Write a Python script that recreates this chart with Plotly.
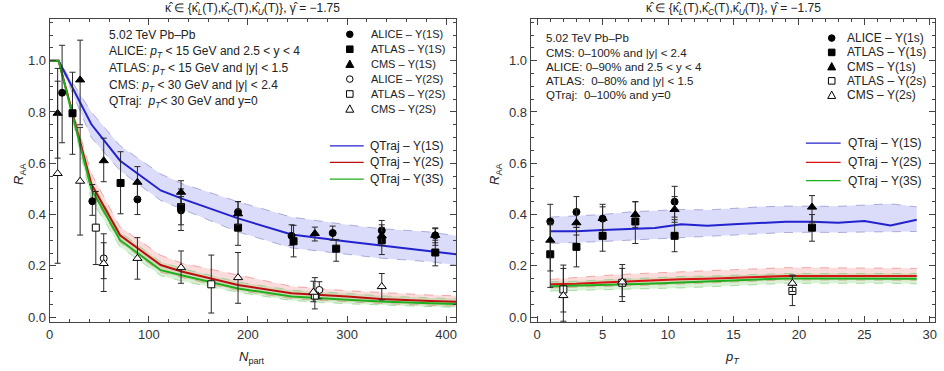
import plotly.graph_objects as go

W, H = 944, 371
FONT = "Liberation Sans, Arial, sans-serif"

def fx(x):
    return x / W

def fy(y):
    return 1 - y / H

# ---------------- Left panel data (vs N_part) ----------------
npart_grid = [0, 9, 42, 71, 112, 134, 190, 244, 300, 334, 384, 410]
q1s_n = [1.0, 1.0, 0.752, 0.61, 0.494, 0.461, 0.385, 0.322, 0.295, 0.28, 0.257, 0.245]
q1s_n_up = [1.0, 1.0, 0.80, 0.668, 0.558, 0.52, 0.45, 0.39, 0.36, 0.345, 0.332, 0.317]
q1s_n_lo = [1.0, 1.0, 0.70, 0.571, 0.455, 0.42, 0.332, 0.27, 0.245, 0.23, 0.216, 0.203]
q2s_n = [1.0, 1.0, 0.519, 0.319, 0.203, 0.177, 0.125, 0.093, 0.08, 0.071, 0.063, 0.06]
q2s_n_up = [1.0, 1.0, 0.56, 0.351, 0.241, 0.21, 0.164, 0.12, 0.103, 0.095, 0.086, 0.083]
q2s_n_lo = [1.0, 1.0, 0.49, 0.292, 0.175, 0.154, 0.104, 0.072, 0.06, 0.053, 0.046, 0.043]
q3s_n = [1.0, 1.0, 0.50, 0.30, 0.183, 0.162, 0.112, 0.08, 0.068, 0.061, 0.054, 0.051]
q3s_n_up = [1.0, 1.0, 0.53, 0.331, 0.215, 0.189, 0.137, 0.105, 0.092, 0.083, 0.075, 0.072]
q3s_n_lo = [1.0, 1.0, 0.46, 0.274, 0.162, 0.14, 0.097, 0.065, 0.052, 0.047, 0.041, 0.038]

alice1s_n_x = [12.5, 43, 88.5, 132.5, 190, 244, 285.5, 335, 389]
alice1s_n_y = [0.875, 0.452, 0.459, 0.416, 0.41, 0.317, 0.328, 0.338, 0.319]
alice1s_n_lo = [0.68, 0.397, 0.40, 0.36, 0.36, 0.28, 0.30, 0.30, 0.28]
alice1s_n_hi = [1.06, 0.517, 0.52, 0.47, 0.45, 0.36, 0.355, 0.377, 0.348]

atlas1s_n_x = [23, 71.5, 132.5, 190, 246, 289, 335, 389]
atlas1s_n_y = [0.795, 0.523, 0.429, 0.349, 0.296, 0.267, 0.30, 0.252]
atlas1s_n_lo = [0.635, 0.403, 0.338, 0.28, 0.235, 0.218, 0.244, 0.20]
atlas1s_n_hi = [0.955, 0.645, 0.50, 0.42, 0.358, 0.303, 0.35, 0.30]

cms1s_n_x = [8, 30.7, 54.5, 88.5, 132.5, 190, 267.5, 335, 389]
cms1s_n_y = [0.795, 0.925, 0.61, 0.526, 0.487, 0.403, 0.326, 0.317, 0.319]
cms1s_n_lo = [0.62, 0.75, 0.528, 0.465, 0.44, 0.36, 0.297, 0.28, 0.29]
cms1s_n_hi = [0.97, 1.08, 0.698, 0.587, 0.532, 0.451, 0.351, 0.36, 0.345]

alice2s_n_x = [54.5, 272]
alice2s_n_y = [0.229, 0.106]
alice2s_n_lo = [0.10, 0.071]
alice2s_n_hi = [0.325, 0.138]

atlas2s_n_x = [46.5, 163, 267.5]
atlas2s_n_y = [0.349, 0.128, 0.084]
atlas2s_n_lo = [0.205, 0.016, 0.032]
atlas2s_n_hi = [0.49, 0.242, 0.154]

cms2s_n_x = [8, 30.7, 54.5, 88.5, 132.5, 190, 266, 335]
cms2s_n_y = [0.56, 0.53, 0.209, 0.229, 0.193, 0.154, 0.097, 0.119]
cms2s_n_lo = [0.21, 0.32, 0.15, 0.148, 0.132, 0.054, 0.06, 0.067]
cms2s_n_hi = [0.92, 0.74, 0.29, 0.31, 0.258, 0.252, 0.14, 0.17]

# ---------------- Right panel data (vs p_T) ----------------
pt_grid = [1, 3, 5, 7, 9, 11, 13, 15, 17, 19, 21, 23, 25, 27, 29]
q1s_p = [0.335, 0.335, 0.34, 0.343, 0.348, 0.362, 0.356, 0.362, 0.367, 0.372, 0.372, 0.368, 0.375, 0.357, 0.38]
q1s_p_up = [0.39, 0.395, 0.40, 0.41, 0.415, 0.42, 0.418, 0.425, 0.43, 0.433, 0.433, 0.432, 0.437, 0.442, 0.43]
q1s_p_lo = [0.287, 0.29, 0.295, 0.30, 0.305, 0.31, 0.313, 0.32, 0.325, 0.33, 0.331, 0.33, 0.332, 0.333, 0.334]
q2s_p = [0.128, 0.13, 0.135, 0.14, 0.144, 0.148, 0.15, 0.153, 0.156, 0.16, 0.16, 0.16, 0.162, 0.162, 0.16]
q2s_p_up = [0.147, 0.155, 0.162, 0.168, 0.173, 0.177, 0.181, 0.185, 0.189, 0.193, 0.193, 0.192, 0.193, 0.192, 0.19]
q2s_p_lo = [0.114, 0.116, 0.119, 0.122, 0.125, 0.129, 0.132, 0.137, 0.141, 0.145, 0.145, 0.145, 0.146, 0.146, 0.144]
q3s_p = [0.12, 0.122, 0.125, 0.128, 0.131, 0.135, 0.138, 0.143, 0.147, 0.151, 0.151, 0.151, 0.152, 0.152, 0.15]
q3s_p_up = [0.138, 0.14, 0.145, 0.15, 0.154, 0.158, 0.16, 0.163, 0.166, 0.17, 0.17, 0.17, 0.172, 0.172, 0.17]
q3s_p_lo = [0.102, 0.104, 0.106, 0.109, 0.111, 0.114, 0.118, 0.123, 0.128, 0.132, 0.132, 0.132, 0.133, 0.132, 0.13]

alice1s_p_x = [1, 3, 5, 10.5]
alice1s_p_y = [0.373, 0.41, 0.384, 0.45]
alice1s_p_lo = [0.30, 0.35, 0.33, 0.39]
alice1s_p_hi = [0.44, 0.47, 0.44, 0.51]

atlas1s_p_x = [1, 3, 5, 7.5, 10.5, 21]
atlas1s_p_y = [0.245, 0.274, 0.317, 0.373, 0.317, 0.349]
atlas1s_p_lo = [0.116, 0.196, 0.257, 0.287, 0.255, 0.296]
atlas1s_p_hi = [0.37, 0.35, 0.38, 0.45, 0.38, 0.40]

cms1s_p_x = [1, 3, 5, 7.5, 10.5, 21]
cms1s_p_y = [0.30, 0.368, 0.385, 0.40, 0.42, 0.429]
cms1s_p_lo = [0.18, 0.32, 0.34, 0.35, 0.37, 0.37]
cms1s_p_hi = [0.36, 0.42, 0.43, 0.45, 0.47, 0.474]

atlas2s_p_x = [2, 6.5, 19.5]
atlas2s_p_y = [0.108, 0.134, 0.102]
atlas2s_p_lo = [-0.016, 0.061, 0.045]
atlas2s_p_hi = [0.203, 0.205, 0.164]

cms2s_p_x = [2, 6.5, 19.5]
cms2s_p_y = [0.084, 0.137, 0.132]
cms2s_p_lo = [0.02, 0.08, 0.10]
cms2s_p_hi = [0.19, 0.19, 0.16]

# ---------------- styles ----------------
BLUE = "rgb(35,35,205)"
RED = "rgb(185,15,15)"
RED2 = "rgb(215,20,20)"
GREEN = "rgb(30,175,30)"
BLUE_FILL = "rgba(110,110,235,0.25)"
RED_FILL = "rgba(240,120,120,0.26)"
GREEN_FILL = "rgba(110,200,90,0.26)"
BLUE_EDGE = "rgba(120,120,190,0.55)"
RED_EDGE = "rgba(235,120,120,0.6)"
GREEN_EDGE = "rgba(120,200,120,0.6)"

fig = go.Figure()


def add_band(x, lo, up, fill, edge, xa, ya):
    fig.add_trace(go.Scatter(x=x, y=lo, mode="lines", line=dict(color=edge, width=1, dash="dash"),
                             showlegend=False, hoverinfo="skip", xaxis=xa, yaxis=ya))
    fig.add_trace(go.Scatter(x=x, y=up, mode="lines", line=dict(color=edge, width=1, dash="dash"),
                             fill="tonexty", fillcolor=fill, showlegend=False, hoverinfo="skip",
                             xaxis=xa, yaxis=ya))


def add_line(x, y, color, xa, ya):
    fig.add_trace(go.Scatter(x=x, y=y, mode="lines", line=dict(color=color, width=2),
                             showlegend=False, xaxis=xa, yaxis=ya))


def add_points(x, y, lo, hi, symbol, filled, xa, ya):
    size = 8 if "triangle" in symbol else 7
    fig.add_trace(go.Scatter(
        x=x, y=y, mode="markers",
        marker=dict(symbol=symbol, size=size, color="black" if filled else "white",
                    line=dict(color="black", width=1)),
        error_y=dict(type="data", symmetric=False,
                     array=[h - v for h, v in zip(hi, y)],
                     arrayminus=[v - l for v, l in zip(y, lo)],
                     thickness=1, width=3, color="rgb(40,40,40)"),
        showlegend=False, xaxis=xa, yaxis=ya))


# Left panel
add_band(npart_grid, q1s_n_lo, q1s_n_up, BLUE_FILL, BLUE_EDGE, "x", "y")
add_band(npart_grid, q2s_n_lo, q2s_n_up, RED_FILL, RED_EDGE, "x", "y")
add_band(npart_grid, q3s_n_lo, q3s_n_up, GREEN_FILL, GREEN_EDGE, "x", "y")
add_line(npart_grid, q1s_n, BLUE, "x", "y")
add_line(npart_grid, q2s_n, RED, "x", "y")
add_line(npart_grid, q3s_n, GREEN, "x", "y")
add_points(alice1s_n_x, alice1s_n_y, alice1s_n_lo, alice1s_n_hi, "circle", True, "x", "y")
add_points(atlas1s_n_x, atlas1s_n_y, atlas1s_n_lo, atlas1s_n_hi, "square", True, "x", "y")
add_points(cms1s_n_x, cms1s_n_y, cms1s_n_lo, cms1s_n_hi, "triangle-up", True, "x", "y")
add_points(alice2s_n_x, alice2s_n_y, alice2s_n_lo, alice2s_n_hi, "circle", False, "x", "y")
add_points(atlas2s_n_x, atlas2s_n_y, atlas2s_n_lo, atlas2s_n_hi, "square", False, "x", "y")
add_points(cms2s_n_x, cms2s_n_y, cms2s_n_lo, cms2s_n_hi, "triangle-up", False, "x", "y")

# Right panel
add_band(pt_grid, q1s_p_lo, q1s_p_up, BLUE_FILL, BLUE_EDGE, "x2", "y2")
add_band(pt_grid, q2s_p_lo, q2s_p_up, RED_FILL, RED_EDGE, "x2", "y2")
add_band(pt_grid, q3s_p_lo, q3s_p_up, GREEN_FILL, GREEN_EDGE, "x2", "y2")
add_line(pt_grid, q1s_p, BLUE, "x2", "y2")
add_line(pt_grid, q2s_p, RED2, "x2", "y2")
add_line(pt_grid, q3s_p, GREEN, "x2", "y2")
add_points(alice1s_p_x, alice1s_p_y, alice1s_p_lo, alice1s_p_hi, "circle", True, "x2", "y2")
add_points(atlas1s_p_x, atlas1s_p_y, atlas1s_p_lo, atlas1s_p_hi, "square", True, "x2", "y2")
add_points(cms1s_p_x, cms1s_p_y, cms1s_p_lo, cms1s_p_hi, "triangle-up", True, "x2", "y2")
add_points(atlas2s_p_x, atlas2s_p_y, atlas2s_p_lo, atlas2s_p_hi, "square", False, "x2", "y2")
add_points(cms2s_p_x, cms2s_p_y, cms2s_p_lo, cms2s_p_hi, "triangle-up", False, "x2", "y2")

# ---------------- axes ----------------
AX = dict(showline=True, linecolor="#444", linewidth=1, mirror="ticks", ticks="inside",
          ticklen=6, tickwidth=1, tickcolor="#444", showgrid=False, zeroline=False,
          tickfont=dict(family=FONT, size=13, color="#333"))

y_ticks = [0.0, 0.2, 0.4, 0.6, 0.8, 1.0]
y_range = [-0.02, 1.163]
ydom = [fy(324), fy(19)]

fig.update_layout(
    width=W, height=H, margin=dict(l=0, r=0, t=0, b=0),
    paper_bgcolor="white", plot_bgcolor="white", showlegend=False,
    xaxis=dict(AX, domain=[fx(46), fx(455)], range=[0, 410], tickvals=[0, 100, 200, 300, 400],
               minor=dict(dtick=20, ticks="inside", ticklen=3, tickcolor="#444"), anchor="y"),
    yaxis=dict(AX, domain=ydom, range=y_range, tickvals=y_ticks, tickformat=".1f",
               minor=dict(dtick=0.05, ticks="inside", ticklen=3, tickcolor="#444"), anchor="x"),
    xaxis2=dict(AX, domain=[fx(530), fx(937)], range=[-0.5, 30.4], tickvals=[0, 5, 10, 15, 20, 25, 30],
                minor=dict(dtick=1, ticks="inside", ticklen=3, tickcolor="#444"), anchor="y2"),
    yaxis2=dict(AX, domain=ydom, range=y_range, tickvals=y_ticks, tickformat=".1f",
                minor=dict(dtick=0.05, ticks="inside", ticklen=3, tickcolor="#444"), anchor="x2"),
)

ann = []


def text(x, y, s, size=12, xanchor="left", angle=0):
    ann.append(dict(x=fx(x), y=fy(y), xref="paper", yref="paper", text=s, showarrow=False,
                    xanchor=xanchor, yanchor="middle", textangle=angle,
                    font=dict(family=FONT, size=size, color="#222")))


title = ("κ̂ ∈ {κ̂<sub><i>L</i></sub>(T),κ̂<sub><i>C</i></sub>(T),κ̂<sub><i>U</i></sub>(T)}, "
         "γ̂ = −1.75")
text(250, 9, title, 12, "center")
text(734, 9, title, 12, "center")

# axis titles
text(15, 175, "<i>R</i><sub>AA</sub>", 13, "center", -90)
text(494, 175, "<i>R</i><sub>AA</sub>", 13, "center", -90)
text(250, 359, "<i>N</i><sub>part</sub>", 13, "center")
text(733, 359, "<i>p</i><sub><i>T</i></sub>", 13, "center")

PT = "<i>p</i><sub><i>T</i></sub>"
left_info = ["5.02 TeV Pb–Pb",
             f"ALICE: {PT} &lt; 15 GeV and 2.5 &lt; y &lt; 4",
             f"ATLAS: {PT} &lt; 15 GeV and |y| &lt; 1.5",
             f"CMS: {PT} &lt; 30 GeV and |y| &lt; 2.4",
             f"QTraj:  {PT}&lt; 30 GeV and y=0"]
for s, y in zip(left_info, [35, 52, 69, 86, 103]):
    text(104, y, s, 12)

right_info = ["5.02 TeV Pb–Pb",
              "CMS: 0–100% and |y| &lt; 2.4",
              "ALICE: 0–90% and 2.5 &lt; y &lt; 4",
              "ATLAS:  0–80% and |y| &lt; 1.5",
              "QTraj:  0–100% and y=0"]
for s, y in zip(right_info, [38, 53, 67, 81.5, 96]):
    text(543, y, s, 11.5)

shapes = []


def sym(kind, filled, cx, cy, r=3.3):
    fill = "black" if filled else "white"
    line = dict(color="black", width=1)
    if kind == "circle":
        shapes.append(dict(type="circle", xref="paper", yref="paper", x0=fx(cx - r), x1=fx(cx + r),
                           y0=fy(cy + r), y1=fy(cy - r), fillcolor=fill, line=line))
    elif kind == "square":
        shapes.append(dict(type="rect", xref="paper", yref="paper", x0=fx(cx - r), x1=fx(cx + r),
                           y0=fy(cy + r), y1=fy(cy - r), fillcolor=fill, line=line))
    else:
        path = (f"M {fx(cx - r - 0.7)} {fy(cy + r)} L {fx(cx + r + 0.7)} {fy(cy + r)} "
                f"L {fx(cx)} {fy(cy - r - 0.8)} Z")
        shapes.append(dict(type="path", xref="paper", yref="paper", path=path, fillcolor=fill, line=line))


left_marks = [("circle", True, "ALICE – Υ(1S)"), ("square", True, "ATLAS – Υ(1S)"),
              ("triangle", True, "CMS – Υ(1S)"), ("circle", False, "ALICE – Υ(2S)"),
              ("square", False, "ATLAS – Υ(2S)"), ("triangle", False, "CMS – Υ(2S)")]
for (k, f, s), y in zip(left_marks, [34.5, 49.5, 64.5, 79.5, 94.5, 109.5]):
    sym(k, f, 348, y)
    text(367, y, s, 11)

right_marks = [("circle", True, "ALICE – Υ(1s)"), ("square", True, "ATLAS – Υ(1s)"),
               ("triangle", True, "CMS – Υ(1s)"), ("square", False, "ATLAS – Υ(2s)"),
               ("triangle", False, "CMS – Υ(2s)")]
for (k, f, s), y in zip(right_marks, [38.3, 52.7, 67, 81.3, 95.7]):
    sym(k, f, 833, y)
    text(846, y, s, 12)


def line_key(x0, x1, y, color, s, tx):
    shapes.append(dict(type="line", xref="paper", yref="paper", x0=fx(x0), x1=fx(x1), y0=fy(y), y1=fy(y),
                       line=dict(color=color, width=1.3)))
    text(tx, y, s, 12)


for (c, s), y in zip([(BLUE, "QTraj – Υ(1S)"), (RED, "QTraj – Υ(2S)"), (GREEN, "QTraj – Υ(3S)")],
                     [146.7, 163.3, 180]):
    line_key(328, 362, y, c, s, 366)
for (c, s), y in zip([(BLUE, "QTraj – Υ(1S)"), (RED2, "QTraj – Υ(2S)"), (GREEN, "QTraj – Υ(3S)")],
                     [144, 163.3, 181.7]):
    line_key(807, 842, y, c, s, 847)

fig.update_layout(annotations=ann, shapes=shapes)
fig.write_html("out.html", config={"displayModeBar": False},
               post_script="document.body.style.margin='0';document.body.style.overflow='hidden';")
